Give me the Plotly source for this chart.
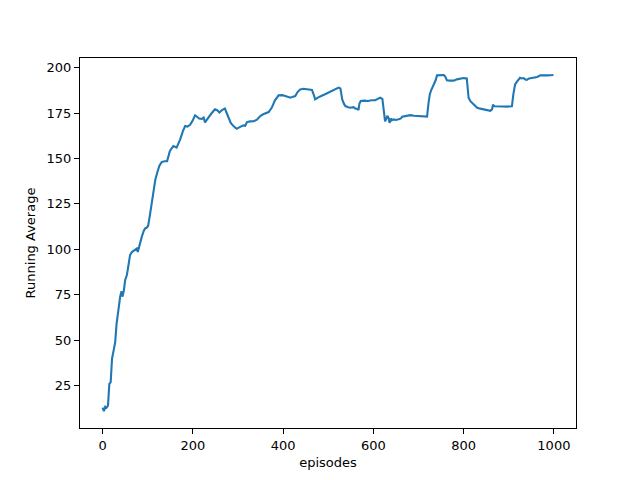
import plotly.graph_objects as go

episodes = [0, 3, 6, 9, 12, 15, 18, 21, 25, 28, 31, 35, 39, 42, 44, 47, 50, 54, 58, 61, 65, 68, 72, 76, 78,
            82, 87, 91, 94, 98, 101, 105, 109, 113, 117, 122, 126, 131, 137, 143, 146, 149, 153, 157, 164,
            168, 172, 178, 183, 188, 194, 200, 205, 210, 214, 220, 224, 227, 231, 236, 242, 249, 254, 259,
            264, 271, 275, 279, 284, 290, 297, 304, 312, 316, 320, 327, 335, 342, 350, 356, 362, 368, 375,
            382, 390, 398, 405, 411, 416, 422, 427, 432, 438, 445, 453, 460, 464, 468, 471, 477, 482, 488,
            493, 499, 504, 510, 516, 523, 527, 531, 535, 538, 544, 549, 556, 560, 565, 567, 569, 572, 580,
            588, 596, 604, 610, 615, 620, 623, 626, 629, 631, 634, 636, 639, 641, 645, 650, 656, 661, 664,
            670, 677, 682, 690, 697, 705, 712, 719, 722, 725, 728, 731, 735, 738, 741, 750, 756, 759, 763,
            770, 778, 785, 793, 800, 807, 809, 811, 815, 819, 824, 830, 837, 845, 852, 859, 863, 865, 868,
            875, 885, 895, 903, 907, 910, 914, 919, 925, 929, 933, 937, 940, 945, 951, 957, 963, 970, 977,
            985, 992, 999]
running_avg = [13, 11, 13.5, 13, 14, 26, 27, 40, 45, 49, 59, 67, 74, 77, 74, 77, 83, 86, 93, 97, 98.5, 99, 100,
               100.5, 98.5, 103, 107, 110, 111.5, 112, 113, 119, 125.6, 132, 138.5, 143, 146, 148, 148.5,
               148.5, 152, 154, 155.5, 156.8, 156, 158, 160.5, 165, 167.8, 167.5, 168.5, 171, 173.7, 172.8,
               172, 171.8, 172.5, 169.8, 171, 173, 175, 177, 176.5, 175.3, 176.5, 177.5, 175, 172.4, 169.5,
               167.8, 166.3, 167.2, 168.2, 168, 170, 170.4, 170.5, 171.3, 173.5, 174.3, 174.8, 175.5, 178,
               182, 184.7, 184.8, 184.4, 184, 183.4, 184, 184.3, 186.5, 188, 188.3, 188, 187.6, 187.7, 185,
               182.5, 183.5, 184.3, 184.8, 185.3, 186, 187, 187.5, 188.3, 189, 188.5, 182.5, 180, 178.8,
               178.2, 177.9, 178.2, 177.5, 177.2, 176.6, 180, 181.6, 181.8, 181.6, 182, 182, 182.8, 183.4,
               182.8, 176, 170.4, 172, 173.5, 172, 169.6, 172, 171, 171.5, 171.2, 171.5, 172, 173, 173.3,
               173.7, 173.8, 173.5, 173.3, 173.1, 173, 173, 180, 185.2, 187.5, 189, 190.7, 193, 195.7, 195.8,
               195.9, 195.2, 193, 192.8, 192.8, 193.5, 194.1, 194.2, 194, 190, 183.4, 181.5, 180.6, 179,
               177.9, 177.4, 177, 176.8, 176.2, 177, 179.6, 178.7, 178.5, 178.6, 178.5, 178.5, 178.7, 185,
               190.7, 192.5, 194.4, 194, 194.2, 193.4, 193.2, 194, 194.2, 194.6, 194.8, 195.7, 195.6, 195.7,
               195.8, 195.9]

x_ticks = [0, 200, 400, 600, 800, 1000]
y_ticks = [25, 50, 75, 100, 125, 150, 175, 200]

fig = go.Figure()
fig.add_trace(go.Scatter(x=episodes, y=running_avg, mode="lines",
                         line=dict(color="#1f77b4", width=2.1), showlegend=False))

axis_common = dict(showgrid=False, zeroline=False, showline=True, linecolor="black", linewidth=1,
                   mirror=True, ticks="outside", ticklen=5, tickwidth=1, tickcolor="black",
                   tickfont=dict(family="DejaVu Sans", size=13, color="black"))
fig.update_xaxes(range=[-50, 1049], tickvals=x_ticks, ticktext=[str(v) for v in x_ticks],
                 title=dict(text="episodes", font=dict(family="DejaVu Sans", size=13, color="black"),
                            standoff=6), **axis_common)
fig.update_yaxes(range=[1.75, 205.25], tickvals=y_ticks, ticktext=[str(v) for v in y_ticks],
                 title=dict(text="Running Average", font=dict(family="DejaVu Sans", size=13, color="black"),
                            standoff=8), **axis_common)
fig.update_layout(width=624, height=464, margin=dict(l=72, r=56, t=50, b=44, autoexpand=False),
                  plot_bgcolor="white", paper_bgcolor="white")
fig.write_html("out.html")
